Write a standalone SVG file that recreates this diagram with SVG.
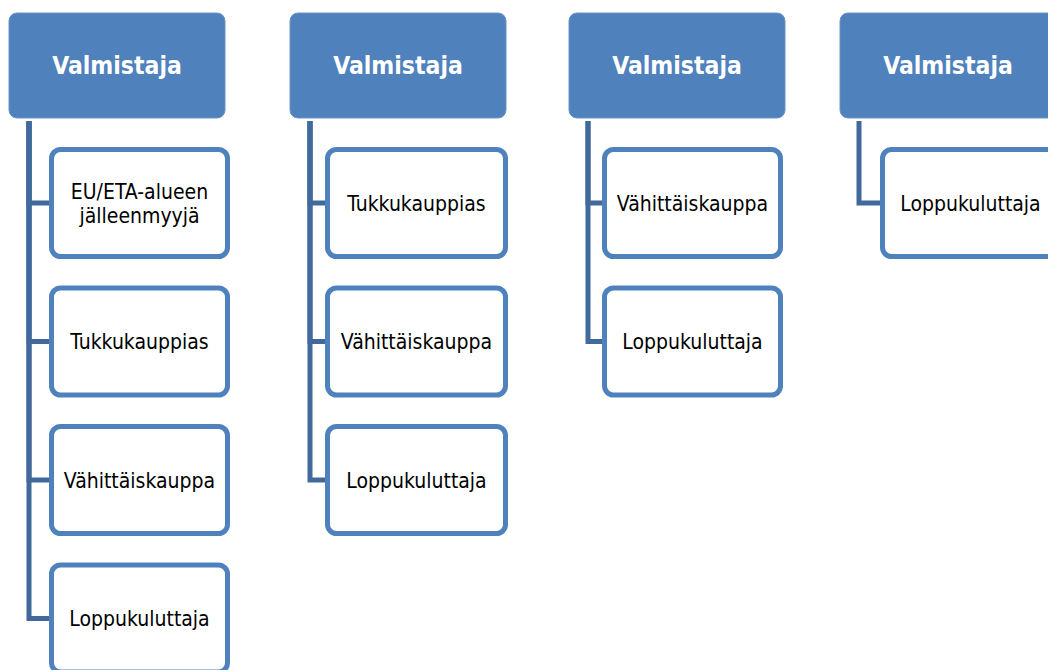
<svg xmlns="http://www.w3.org/2000/svg" width="1048" height="670" viewBox="0 0 1048 670">
<style>
.hdr{fill:#4F81BD;stroke:#6A94C6;stroke-width:1}
.ht{font-family:"DejaVu Sans Condensed","DejaVu Sans",sans-serif;font-stretch:condensed;font-weight:bold;font-size:24.5px;fill:#FFFFFF;text-anchor:middle}
.box{fill:#FFFFFF;stroke:#4F81BD;stroke-width:5}
.ct{font-family:"DejaVu Sans Condensed","DejaVu Sans",sans-serif;font-stretch:condensed;font-size:21px;fill:#000000;text-anchor:middle}
.con{fill:none;stroke:#41699B;stroke-width:5;stroke-linejoin:miter}
</style>
<rect width="1048" height="670" fill="#FFFFFF"/>
<g id="connectors">
<path class="con" d="M29 121 V203 H51"/>
<path class="con" d="M29 121 V341.5 H51"/>
<path class="con" d="M29 121 V480 H51"/>
<path class="con" d="M29 121 V618.5 H51"/>
<path class="con" d="M310 121 V203 H327"/>
<path class="con" d="M310 121 V341.5 H327"/>
<path class="con" d="M310 121 V480 H327"/>
<path class="con" d="M588 121 V203 H604"/>
<path class="con" d="M588 121 V341.5 H604"/>
<path class="con" d="M859 121 V203 H882"/>
</g>
<g id="h1"><rect class="hdr" x="9" y="13" width="216" height="105" rx="8"/><text class="ht" x="117" y="74">Valmistaja</text></g>
<g id="h2"><rect class="hdr" x="290" y="13" width="216" height="105" rx="8"/><text class="ht" x="398" y="74">Valmistaja</text></g>
<g id="h3"><rect class="hdr" x="569" y="13" width="216" height="105" rx="8"/><text class="ht" x="677" y="74">Valmistaja</text></g>
<g id="h4"><rect class="hdr" x="840" y="13" width="216" height="105" rx="8"/><text class="ht" x="948" y="74">Valmistaja</text></g>
<g id="c1a"><rect class="box" x="51.5" y="149.5" width="176" height="107" rx="9"/><text class="ct" x="139.5" y="198.5">EU/ETA-alueen</text><text class="ct" x="139.5" y="222.5">jälleenmyyjä</text></g>
<g id="c1b"><rect class="box" x="51.5" y="288" width="176" height="107" rx="9"/><text class="ct" x="139.5" y="349">Tukkukauppias</text></g>
<g id="c1c"><rect class="box" x="51.5" y="426.5" width="176" height="107" rx="9"/><text class="ct" x="139.5" y="487.5">Vähittäiskauppa</text></g>
<g id="c1d"><rect class="box" x="51.5" y="565" width="176" height="107" rx="9"/><text class="ct" x="139.5" y="626">Loppukuluttaja</text></g>
<g id="c2a"><rect class="box" x="327.5" y="149.5" width="178" height="107" rx="9"/><text class="ct" x="416.5" y="210.5">Tukkukauppias</text></g>
<g id="c2b"><rect class="box" x="327.5" y="288" width="178" height="107" rx="9"/><text class="ct" x="416.5" y="349">Vähittäiskauppa</text></g>
<g id="c2c"><rect class="box" x="327.5" y="426.5" width="178" height="107" rx="9"/><text class="ct" x="416.5" y="487.5">Loppukuluttaja</text></g>
<g id="c3a"><rect class="box" x="604.5" y="149.5" width="176" height="107" rx="9"/><text class="ct" x="692.5" y="210.5">Vähittäiskauppa</text></g>
<g id="c3b"><rect class="box" x="604.5" y="288" width="176" height="107" rx="9"/><text class="ct" x="692.5" y="349">Loppukuluttaja</text></g>
<g id="c4a"><rect class="box" x="882.5" y="149.5" width="176" height="107" rx="9"/><text class="ct" x="970.5" y="210.5">Loppukuluttaja</text></g>
</svg>
